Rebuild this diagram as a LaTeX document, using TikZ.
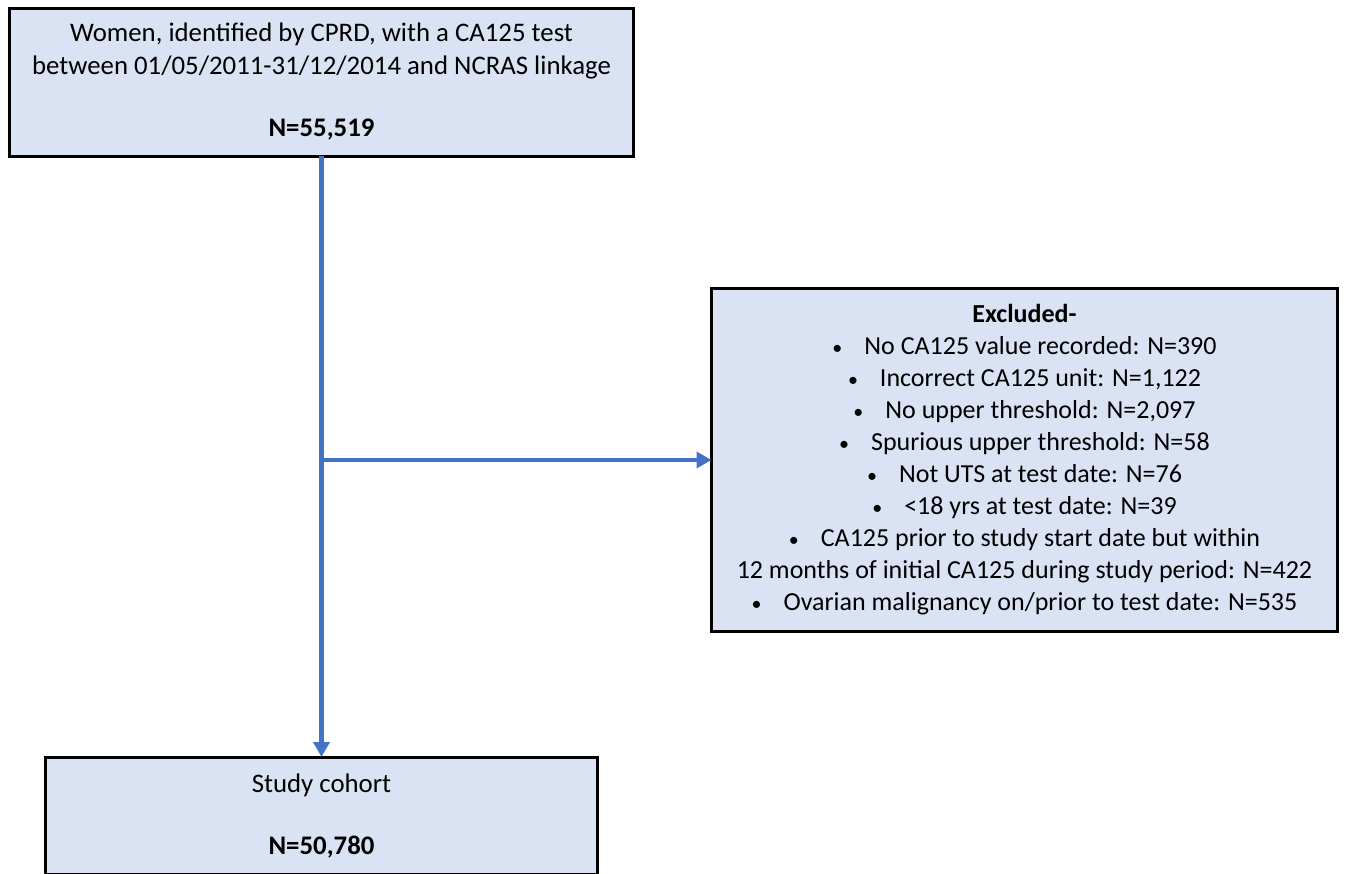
\documentclass[tikz,border=0pt]{standalone}
\usepackage{fontspec}
\setmainfont{Carlito}
\usetikzlibrary{positioning,arrows.meta}
\definecolor{boxfill}{HTML}{DAE3F3}
\definecolor{flowblue}{HTML}{4472C4}
\newcommand{\bul}{{\fontsize{20}{20}\selectfont\textbullet}\hspace{22pt}}

\begin{document}
\begin{tikzpicture}[thick, >={Triangle[width=16pt,length=15pt]},
  main/.style = {draw, line width=3pt, fill=boxfill, rectangle, inner sep=0pt, outer sep=0pt, align=center, font=\fontsize{26.8}{33}\selectfont},
  flow/.style = {draw=flowblue, line width=4.5pt}]
\useasboundingbox (-321.5pt,-791pt) rectangle (1027.5pt,82pt);

\node[main, minimum width=623pt, minimum height=148pt] (1) {Women, identified by CPRD, with a CA125 test\\between 01/05/2011-31/12/2014 and NCRAS linkage\\[29pt]\textbf{N=55,519}};
\node[main, minimum width=551pt, minimum height=117pt] (3) [below=601pt of 1] {Study cohort\\[29pt]\textbf{N=50,780}};
\draw[flow, ->] (1) -- (3);

\coordinate[below=304pt of 1] (b);
\node[main, minimum width=626pt, minimum height=343pt, font=\fontsize{26}{32}\selectfont] (2) [right=390pt of b] {\textbf{Excluded-}\\
\bul No CA125 value recorded: N=390\\
\bul Incorrect CA125 unit: N=1,122\\
\bul No upper threshold: N=2,097\\
\bul Spurious upper threshold: N=58\\
\bul Not UTS at test date: N=76\\
\bul {<}18 yrs at test date: N=39\\
\bul CA125 prior to study start date but within\\
12 months of initial CA125 during study period: N=422\\
\bul Ovarian malignancy on/prior to test date: N=535};
\draw[flow, ->] (b) -- (2);

\end{tikzpicture}
\end{document}
